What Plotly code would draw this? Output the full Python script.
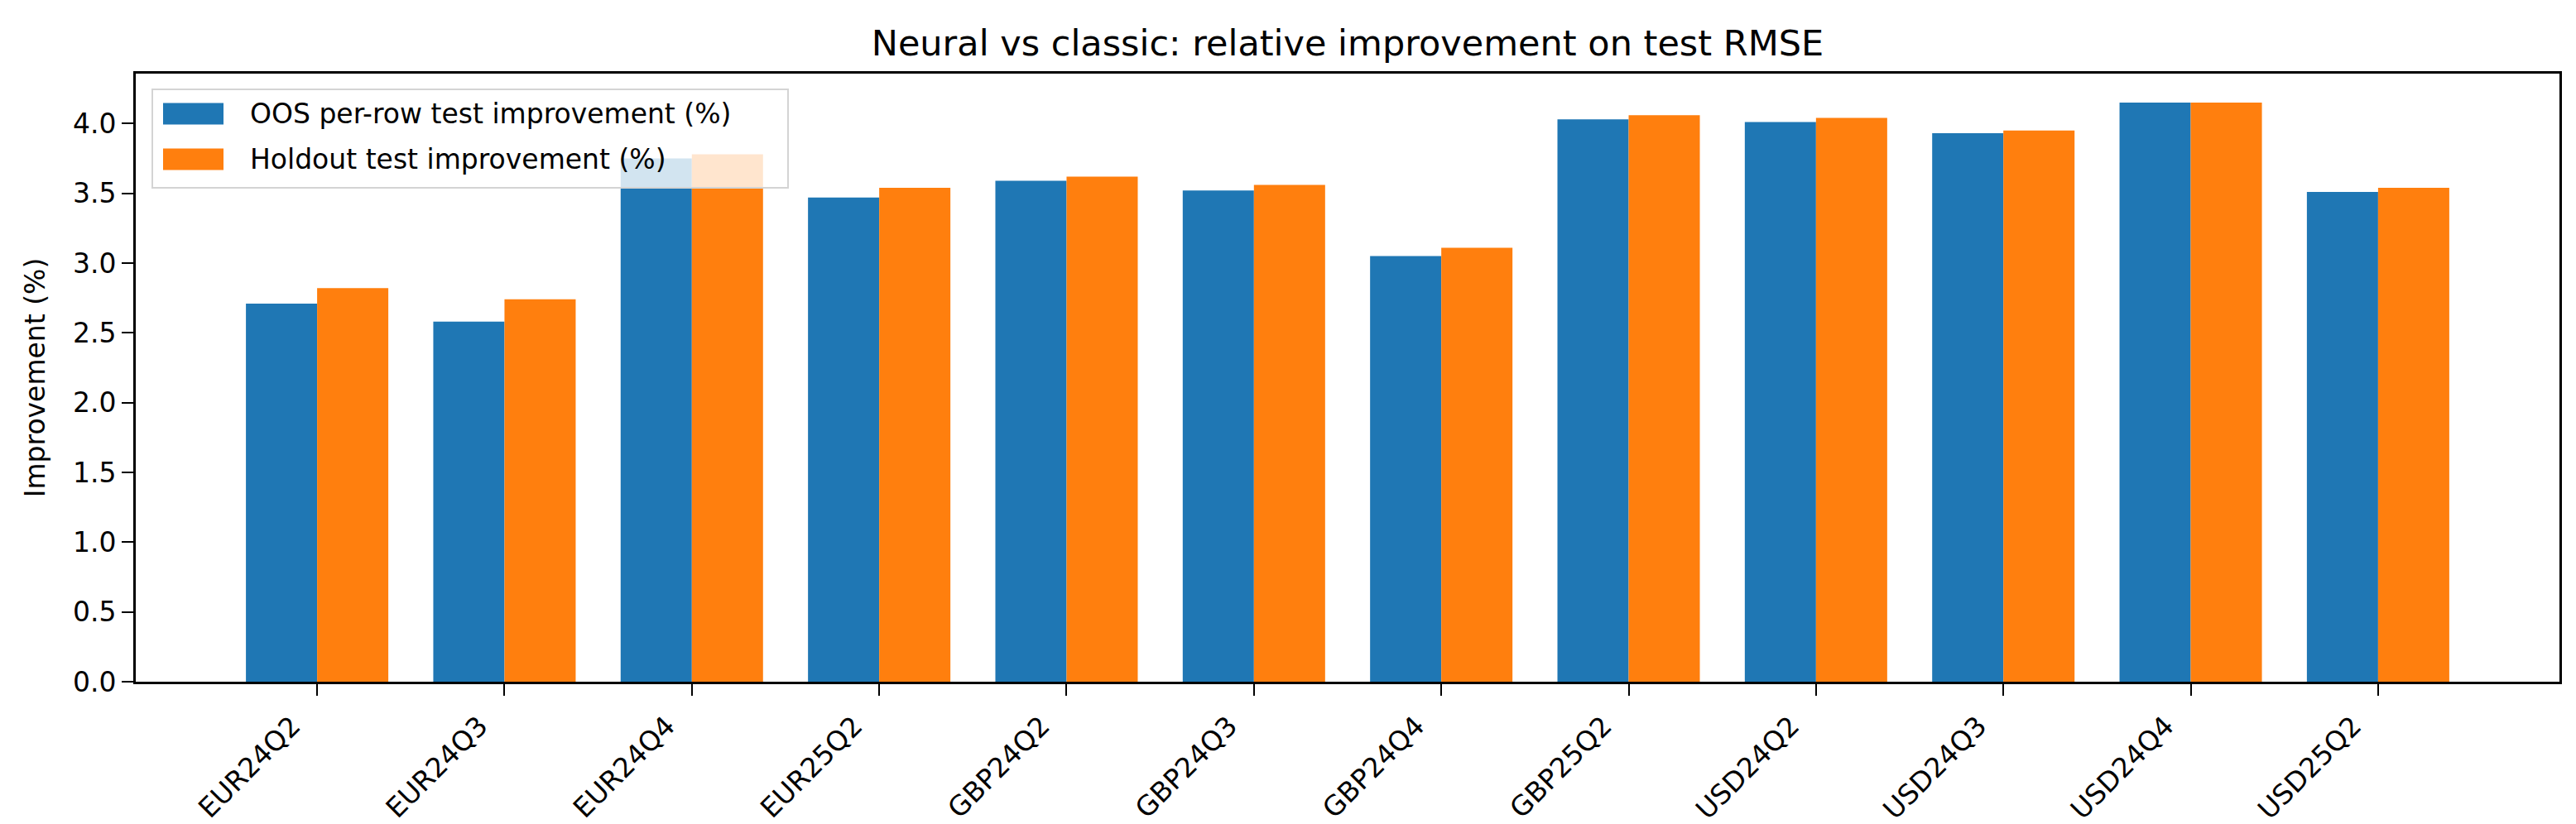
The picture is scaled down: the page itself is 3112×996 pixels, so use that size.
import plotly.graph_objects as go

categories = ["EUR24Q2", "EUR24Q3", "EUR24Q4", "EUR25Q2", "GBP24Q2", "GBP24Q3",
              "GBP24Q4", "GBP25Q2", "USD24Q2", "USD24Q3", "USD24Q4", "USD25Q2"]
oos_improvement = [2.71, 2.58, 3.75, 3.47, 3.59, 3.52, 3.05, 4.03, 4.01, 3.93, 4.15, 3.51]
holdout_improvement = [2.82, 2.74, 3.78, 3.54, 3.62, 3.56, 3.11, 4.06, 4.04, 3.95, 4.15, 3.54]
series_names = ["OOS per-row test improvement (%)", "Holdout test improvement (%)"]
series_colors = ["#1f77b4", "#ff7f0e"]
y_ticks = [0.0, 0.5, 1.0, 1.5, 2.0, 2.5, 3.0, 3.5, 4.0]

FONT = "DejaVu Sans"
W, H = 3112, 996
ML, MR, MT, MB = 156, 28, 81, 180
PW, PH = W - ML - MR, H - MT - MB
BAR_W = 0.38
n = len(categories)
ymax = max(max(oos_improvement), max(holdout_improvement)) * 1.05
xpad = 0.05 * ((n - 1) + 2 * BAR_W)


def px_x(px):
    return (px - ML) / PW


def px_y(py):
    return (H - MB - py) / PH


fig = go.Figure()
for vals, name, color in zip([oos_improvement, holdout_improvement], series_names, series_colors):
    fig.add_trace(go.Bar(x=categories, y=vals, name=name,
                         marker=dict(color=color, line=dict(width=0)), showlegend=False))

# legend (matplotlib-style box drawn in paper coordinates)
shapes = [dict(type="rect", xref="paper", yref="paper",
               x0=px_x(176), x1=px_x(944), y0=px_y(219), y1=px_y(100),
               line=dict(color="#d4d4d4", width=2), fillcolor="rgba(255,255,255,0.8)", layer="above")]
annotations = []
row_centers = [129.5, 184.5]
for yc, name, color in zip(row_centers, series_names, series_colors):
    shapes.append(dict(type="rect", xref="paper", yref="paper",
                       x0=px_x(189), x1=px_x(262), y0=px_y(yc + 13), y1=px_y(yc - 13),
                       line=dict(width=0), fillcolor=color, layer="above"))
    annotations.append(dict(text=name, xref="paper", yref="paper", x=px_x(292), y=px_y(yc),
                            xanchor="left", yanchor="middle", showarrow=False,
                            font=dict(family=FONT, size=33, color="black")))

fig.update_layout(
    width=W, height=H,
    margin=dict(l=ML, r=MR, t=MT, b=MB, autoexpand=False),
    paper_bgcolor="white", plot_bgcolor="white",
    font=dict(family=FONT, size=33, color="black"),
    barmode="group", bargap=1 - 2 * BAR_W, bargroupgap=0,
    title=dict(text="Neural vs classic: relative improvement on test RMSE",
               x=0.5, xref="paper", xanchor="center",
               y=1 - 44 / H, yref="container", yanchor="middle",
               font=dict(family=FONT, size=43, color="black")),
    shapes=shapes, annotations=annotations,
    showlegend=False,
)
fig.update_xaxes(
    type="category", categoryorder="array", categoryarray=categories,
    range=[-BAR_W - xpad, (n - 1) + BAR_W + xpad], automargin=False,
    showline=True, linecolor="black", linewidth=2.6, mirror=True,
    ticks="outside", ticklen=14, tickwidth=2, tickcolor="black",
    tickangle=-45, ticklabelshift=-30, ticklabelstandoff=4,
    tickfont=dict(family=FONT, size=33, color="black"),
    showgrid=False, zeroline=False,
)
fig.update_yaxes(
    range=[0, ymax], tickvals=y_ticks, ticktext=[f"{v:.1f}" for v in y_ticks],
    automargin=False,
    showline=True, linecolor="black", linewidth=2.6, mirror=True,
    ticks="outside", ticklen=14, tickwidth=2, tickcolor="black",
    tickfont=dict(family=FONT, size=33, color="black"),
    title=dict(text="Improvement (%)", standoff=24, font=dict(family=FONT, size=33, color="black")),
    showgrid=False, zeroline=False,
)

fig.write_html("out.html")
